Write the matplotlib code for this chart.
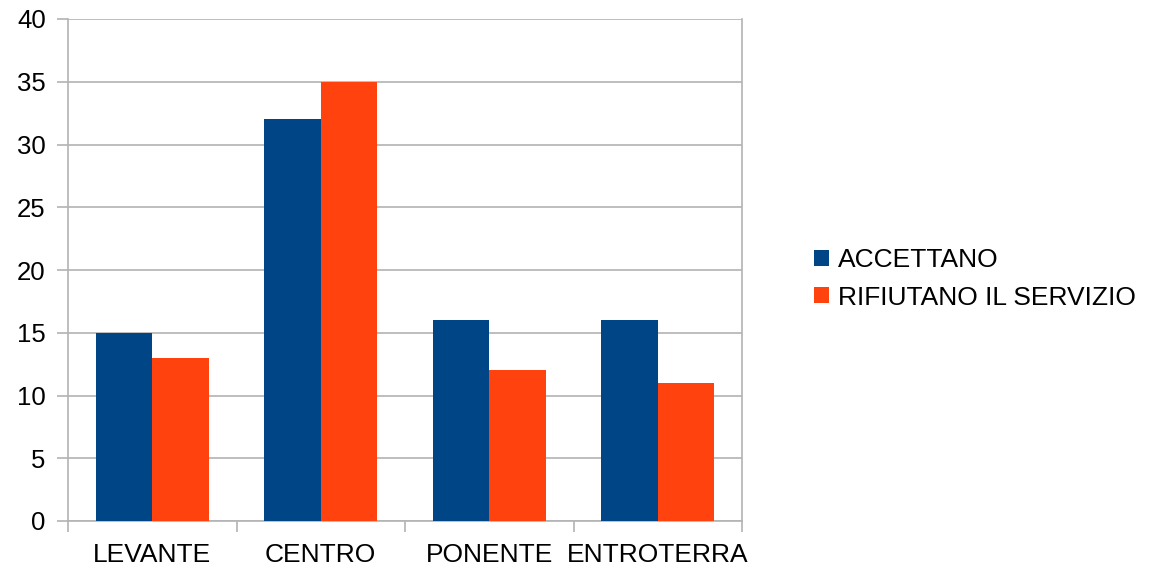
import matplotlib.pyplot as plt
import numpy as np

# zone e risposte
zone = ['LEVANTE', 'CENTRO', 'PONENTE', 'ENTROTERRA']
accettano = [15, 32, 16, 16]
rifiutano = [13, 35, 12, 11]
serie = ['ACCETTANO', 'RIFIUTANO IL SERVIZIO']

blu = '#004586'
arancio = '#ff420e'
grigio = '#b3b3b3'

plt.rcParams['font.family'] = ['Liberation Sans', 'DejaVu Sans']

fig = plt.figure(figsize=(11.59, 5.68), dpi=100)
ax = fig.add_axes([68/1159, 1 - 521/568, (742 - 68)/1159, (521 - 19)/568])

x = np.arange(len(zone))
w = 0.335
b1 = ax.bar(x - w/2, accettano, w, color=blu, label=serie[0], zorder=3)
b2 = ax.bar(x + w/2, rifiutano, w, color=arancio, label=serie[1], zorder=3)

ax.set_xlim(-0.5, len(zone) - 0.5)
ax.set_ylim(0, 40)
ax.set_yticks(np.arange(0, 41, 5))
ax.yaxis.grid(True, color=grigio, linewidth=1.2, zorder=0)

ax.set_xticks(x)
ax.set_xticklabels(zone)
ax.set_xticks(np.arange(-0.5, len(zone)), minor=True)
ax.tick_params(axis='x', which='major', length=0, pad=16, labelsize=19)
ax.tick_params(axis='x', which='minor', length=8, width=1.2, color=grigio)
ax.tick_params(axis='y', length=8, width=1.2, color=grigio, pad=8, labelsize=18.5)

for s in ['left', 'right', 'bottom']:
    ax.spines[s].set_color(grigio)
    ax.spines[s].set_linewidth(1.2)
ax.spines['top'].set_visible(False)

fig.legend(handles=[b1, b2], loc='center left', bbox_to_anchor=(790/1159, 1 - 279/568),
           frameon=False, fontsize=19, handlelength=0.57, handleheight=0.57,
           handletextpad=0.35, labelspacing=0.5)

plt.savefig('out.png', dpi=100)
